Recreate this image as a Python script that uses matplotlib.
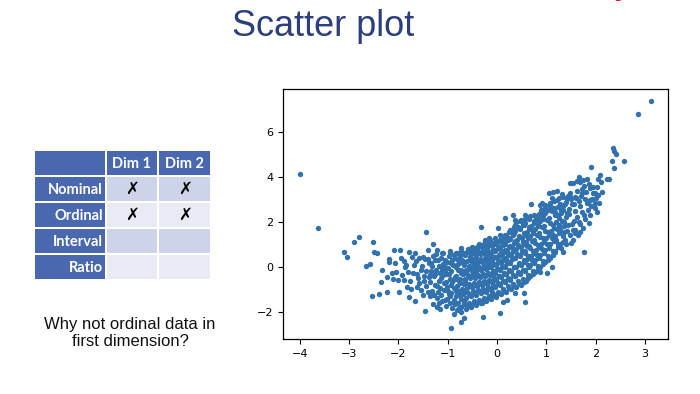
import matplotlib
matplotlib.use("Agg")
import matplotlib.pyplot as plt
from matplotlib.patches import Rectangle

# ---------------- data ----------------
table_cols = ["Dim 1", "Dim 2"]
table_rows = ["Nominal", "Ordinal", "Interval", "Ratio"]
table_marks = [["✗", "✗"], ["✗", "✗"], ["", ""], ["", ""]]

x_ticks = [-4, -3, -2, -1, 0, 1, 2, 3]
y_ticks = [-2, 0, 2, 4, 6]

tail_left = [(-4.0, 4.15), (-3.64, 1.72), (-3.10, 0.68), (-3.05, 0.46), (-2.90, 1.10), (-2.79, 1.35),
             (-2.52, 1.10), (-2.49, 0.65), (-2.43, 0.64), (-2.66, 0.06), (-2.58, 0.13), (-2.54, -1.30),
             (-2.39, -1.19), (-2.24, -1.11), (-2.35, -0.67), (-2.33, -0.13), (-2.23, -0.46), (-2.18, 0.24),
             (-2.19, 0.34), (-2.08, 0.76), (-1.97, 0.76), (-2.07, 0.16), (-1.95, 0.38), (-2.12, -0.25),
             (-2.04, -0.21), (-2.10, -0.55), (-2.00, -0.58), (-1.89, 0.27), (-1.87, 0.01), (-1.98, -1.10),
             (-1.92, -0.36), (-1.89, -0.58), (-1.78, 0.68), (-1.80, -0.21), (-1.76, -0.61), (-1.83, -0.90),
             (-1.75, -0.99), (-1.78, -1.35), (-1.66, 0.61), (-1.68, 0.09), (-1.71, -0.25), (-1.66, -1.50),
             (-1.60, -0.50), (-1.63, -0.88), (-1.58, 0.38), (-1.55, -1.02), (-1.51, -1.24), (-1.43, 1.54),
             (-1.39, 0.76), (-1.30, 1.02), (-1.46, 0.34), (-1.37, 0.16), (-1.44, -0.18), (-1.36, -0.36),
             (-1.43, -0.84), (-1.39, -1.10), (-1.45, -1.97), (-1.55, -0.15), (-1.50, 0.45), (-1.62, -0.30),
             (-1.48, -0.62), (-1.72, 0.45), (-1.85, 0.10), (-1.58, -0.72), (-1.52, 0.05), (-1.47, -0.40),
             (-1.65, 0.25)]

lower_outliers = [(-1.30, -1.64), (-1.22, -1.79), (-1.16, -1.88), (-1.02, -1.44), (-0.95, -1.62),
                  (-0.87, -2.09), (-0.93, -2.73), (-0.72, -2.43), (-0.67, -2.28), (-0.72, -1.76),
                  (-0.60, -1.76), (-0.28, -2.21), (-0.31, -1.62), (-0.24, -1.47), (-0.11, -1.10),
                  (0.20, -1.47), (0.13, -1.54), (0.07, -2.03), (0.57, -1.54), (0.55, -1.17),
                  (0.37, -1.17), (1.01, -0.28), (1.11, 0.01), (0.87, -0.21)]

upper_left = [(-0.32, 1.79), (-1.22, 0.76), (-1.09, 0.61), (-0.95, 0.68), (-0.82, 0.61), (-0.72, 0.83),
              (-0.61, 0.68), (-0.41, 0.90), (-0.24, 1.20), (-0.16, 1.27), (-0.43, 0.53), (0.33, 2.31),
              (0.37, 2.09), (0.57, 2.31), (0.16, 2.16), (0.03, 1.72)]

upper_right = [(3.12, 7.38), (2.87, 6.80), (2.35, 5.27), (2.38, 5.17), (2.41, 5.02), (2.34, 4.71),
               (2.58, 4.71), (2.37, 4.39), (1.91, 4.43), (2.10, 4.09), (2.05, 3.91), (2.12, 3.79),
               (2.24, 3.91), (2.28, 3.92), (1.66, 3.99), (1.62, 3.84), (1.68, 3.78), (1.75, 3.87),
               (1.82, 3.90), (1.48, 3.72), (1.55, 3.72), (1.21, 3.39), (1.14, 3.35), (1.06, 3.27),
               (1.89, 3.50), (1.95, 3.57), (1.99, 3.27), (2.14, 3.35), (1.72, 3.27), (1.35, 3.10),
               (1.43, 3.05), (1.49, 3.12), (1.58, 3.12), (1.11, 3.05), (1.16, 2.95), (0.69, 2.80),
               (0.91, 2.83), (0.97, 2.76), (1.24, 2.68), (1.40, 2.90), (1.99, 2.83), (2.02, 2.46),
               (1.77, 0.68), (1.51, 1.05), (1.33, 0.68), (1.18, 0.68), (1.58, 1.50), (1.68, 1.54),
               (0.87, 2.76), (0.94, 2.39), (1.85, 2.83), (1.89, 2.98)]

core_left = [(-1.32, -1.05), (-1.27, -0.42), (-1.34, 0.18), (-1.26, -0.78), (-1.29, 0.47),
             (-1.22, -1.38), (-1.17, -0.61), (-1.24, -0.12), (-1.19, 0.33), (-1.15, -0.95), (-1.23, 0.58),
             (-1.12, -1.52), (-1.07, -1.01), (-1.13, -0.48), (-1.06, -0.21), (-1.09, 0.12), (-1.14, 0.41),
             (-1.08, -0.73), (-1.11, 0.62),
             (-1.03, -1.74), (-0.98, -1.22), (-1.02, -0.88), (-0.96, -0.55), (-1.04, -0.31), (-0.99, -0.05),
             (-1.01, 0.22), (-0.97, 0.48), (-1.05, -1.45),
             (-0.92, -1.81), (-0.87, -1.48), (-0.93, -1.17), (-0.88, -0.92), (-0.91, -0.66), (-0.86, -0.43),
             (-0.94, -0.18), (-0.89, 0.08), (-0.92, 0.31), (-0.87, 0.55), (-0.95, 0.72),
             (-0.82, -1.92), (-0.78, -1.58), (-0.83, -1.31), (-0.77, -1.06), (-0.81, -0.84), (-0.76, -0.61),
             (-0.84, -0.39), (-0.79, -0.14), (-0.82, 0.07), (-0.78, 0.29), (-0.75, 0.48), (-0.83, 0.63),
             (-0.72, -1.98), (-0.67, -1.66), (-0.73, -1.42), (-0.68, -1.19), (-0.71, -0.97), (-0.66, -0.75),
             (-0.74, -0.55), (-0.69, -0.33), (-0.72, -0.12), (-0.67, 0.09), (-0.70, 0.31), (-0.65, 0.52),
             (-0.73, 0.71),
             (-0.62, -1.88), (-0.57, -1.61), (-0.63, -1.38), (-0.58, -1.15), (-0.61, -0.94), (-0.56, -0.74),
             (-0.64, -0.53), (-0.59, -0.34), (-0.62, -0.13), (-0.57, 0.06), (-0.60, 0.27), (-0.55, 0.45),
             (-0.63, 0.63), (-0.58, 0.81)]

core_mid = [(-0.52, -1.79), (-0.47, -1.52), (-0.53, -1.29), (-0.48, -1.08), (-0.51, -0.88), (-0.46, -0.69),
            (-0.54, -0.51), (-0.49, -0.32), (-0.52, -0.14), (-0.47, 0.04), (-0.50, 0.22), (-0.45, 0.41),
            (-0.53, 0.58), (-0.48, 0.74), (-0.51, 0.91),
            (-0.42, -1.71), (-0.37, -1.46), (-0.43, -1.24), (-0.38, -1.04), (-0.41, -0.86), (-0.36, -0.68),
            (-0.44, -0.51), (-0.39, -0.34), (-0.42, -0.17), (-0.37, 0.01), (-0.40, 0.18), (-0.35, 0.36),
            (-0.43, 0.53), (-0.38, 0.69), (-0.41, 0.86), (-0.36, 1.01),
            (-0.32, -1.62), (-0.27, -1.37), (-0.33, -1.16), (-0.28, -0.97), (-0.31, -0.79), (-0.26, -0.62),
            (-0.34, -0.46), (-0.29, -0.29), (-0.32, -0.12), (-0.27, 0.05), (-0.30, 0.22), (-0.25, 0.39),
            (-0.33, 0.56), (-0.28, 0.72), (-0.31, 0.88), (-0.26, 1.04),
            (-0.22, -1.52), (-0.17, -1.29), (-0.23, -1.09), (-0.18, -0.91), (-0.21, -0.74), (-0.16, -0.58),
            (-0.24, -0.42), (-0.19, -0.26), (-0.22, -0.09), (-0.17, 0.07), (-0.20, 0.23), (-0.15, 0.39),
            (-0.23, 0.55), (-0.18, 0.71), (-0.21, 0.86), (-0.16, 1.02), (-0.24, 1.14),
            (-0.12, -1.41), (-0.07, -1.19), (-0.13, -0.99), (-0.08, -0.82), (-0.11, -0.65), (-0.06, -0.49),
            (-0.14, -0.34), (-0.09, -0.18), (-0.12, -0.02), (-0.07, 0.14), (-0.10, 0.29), (-0.05, 0.45),
            (-0.13, 0.61), (-0.08, 0.77), (-0.11, 0.93), (-0.06, 1.08), (-0.14, 1.21),
            (-0.02, -1.32), (0.03, -1.09), (-0.03, -0.89), (0.02, -0.72), (-0.01, -0.56), (0.04, -0.40),
            (-0.04, -0.25), (0.01, -0.09), (-0.02, 0.07), (0.03, 0.22), (0.00, 0.38), (0.05, 0.54),
            (-0.03, 0.70), (0.02, 0.86), (-0.01, 1.01), (0.04, 1.16), (-0.04, 1.31),
            (0.08, -1.21), (0.13, -0.99), (0.07, -0.79), (0.12, -0.62), (0.09, -0.46), (0.14, -0.30),
            (0.06, -0.15), (0.11, 0.01), (0.08, 0.17), (0.13, 0.33), (0.10, 0.49), (0.15, 0.65),
            (0.07, 0.81), (0.12, 0.97), (0.09, 1.12), (0.14, 1.27), (0.06, 1.41)]

core_right = [(0.18, -1.09), (0.23, -0.86), (0.17, -0.66), (0.22, -0.48), (0.19, -0.31), (0.24, -0.14),
              (0.16, 0.02), (0.21, 0.19), (0.18, 0.36), (0.23, 0.53), (0.20, 0.70), (0.25, 0.87),
              (0.17, 1.04), (0.22, 1.21), (0.19, 1.38), (0.24, 1.57),
              (0.28, -0.98), (0.33, -0.76), (0.27, -0.56), (0.32, -0.37), (0.29, -0.19), (0.34, -0.01),
              (0.26, 0.17), (0.31, 0.35), (0.28, 0.53), (0.33, 0.71), (0.30, 0.89), (0.35, 1.07),
              (0.27, 1.25), (0.32, 1.43), (0.29, 1.61), (0.34, 1.79),
              (0.38, -0.88), (0.43, -0.64), (0.37, -0.42), (0.42, -0.21), (0.39, -0.01), (0.44, 0.19),
              (0.36, 0.39), (0.41, 0.59), (0.38, 0.79), (0.43, 0.99), (0.40, 1.19), (0.45, 1.39),
              (0.37, 1.59), (0.42, 1.79), (0.39, 1.98),
              (0.48, -0.79), (0.53, -0.55), (0.47, -0.33), (0.52, -0.12), (0.49, 0.09), (0.54, 0.29),
              (0.46, 0.49), (0.51, 0.69), (0.48, 0.89), (0.53, 1.09), (0.50, 1.29), (0.55, 1.49),
              (0.47, 1.69), (0.52, 1.88), (0.49, 2.07),
              (0.58, -0.61), (0.63, -0.37), (0.57, -0.14), (0.62, 0.08), (0.59, 0.29), (0.64, 0.50),
              (0.56, 0.71), (0.61, 0.92), (0.58, 1.13), (0.63, 1.34), (0.60, 1.55), (0.65, 1.76),
              (0.57, 1.97), (0.62, 2.18),
              (0.68, -0.42), (0.73, -0.17), (0.67, 0.07), (0.72, 0.29), (0.69, 0.51), (0.74, 0.73),
              (0.66, 0.95), (0.71, 1.17), (0.68, 1.39), (0.73, 1.61), (0.70, 1.83), (0.75, 2.05),
              (0.67, 2.27),
              (0.78, -0.21), (0.83, 0.05), (0.77, 0.29), (0.82, 0.52), (0.79, 0.75), (0.84, 0.98),
              (0.76, 1.21), (0.81, 1.44), (0.78, 1.67), (0.83, 1.90), (0.80, 2.13), (0.85, 2.37),
              (0.88, 0.02), (0.93, 0.28), (0.87, 0.53), (0.92, 0.78), (0.89, 1.03), (0.94, 1.28),
              (0.86, 1.53), (0.91, 1.78), (0.88, 2.03), (0.93, 2.28), (0.90, 2.55),
              (0.98, 0.21), (1.03, 0.48), (0.97, 0.75), (1.02, 1.02), (0.99, 1.29), (1.04, 1.56),
              (0.96, 1.83), (1.01, 2.10), (0.98, 2.39), (1.03, 2.72),
              (1.08, 0.42), (1.13, 0.71), (1.07, 1.00), (1.12, 1.29), (1.09, 1.58), (1.14, 1.87),
              (1.06, 2.16), (1.11, 2.47), (1.08, 2.83),
              (1.18, 0.72), (1.23, 1.04), (1.17, 1.36), (1.22, 1.68), (1.19, 2.00), (1.24, 2.32),
              (1.16, 2.64), (1.21, 2.97),
              (1.28, 1.02), (1.33, 1.36), (1.27, 1.70), (1.32, 2.04), (1.29, 2.38), (1.34, 2.72),
              (1.26, 3.06),
              (1.38, 1.22), (1.43, 1.61), (1.37, 2.00), (1.42, 2.39), (1.39, 2.78), (1.44, 3.17),
              (1.48, 1.43), (1.53, 1.89), (1.47, 2.35), (1.52, 2.81), (1.49, 3.27),
              (1.58, 1.63), (1.63, 2.21), (1.57, 2.79), (1.62, 3.37),
              (1.68, 1.93), (1.73, 2.44), (1.67, 2.95), (1.72, 3.46),
              (1.78, 2.12), (1.83, 2.86), (1.77, 3.58),
              (1.88, 2.31), (1.93, 3.02), (1.87, 3.71),
              (1.98, 2.62), (2.03, 3.55)]

core_fill = [(-0.96, -1.30), (-0.94, -0.78), (-0.97, -0.30), (-0.93, 0.18),
             (-0.86, -1.65), (-0.84, -1.05), (-0.85, -0.55), (-0.83, -0.02), (-0.86, 0.42),
             (-0.76, -1.82), (-0.74, -1.25), (-0.75, -0.72), (-0.73, -0.25), (-0.77, 0.18), (-0.74, 0.58),
             (-0.66, -1.52), (-0.64, -1.08), (-0.65, -0.64), (-0.63, -0.22), (-0.66, 0.20), (-0.64, 0.62),
             (-0.56, -1.70), (-0.54, -1.24), (-0.55, -0.83), (-0.53, -0.42), (-0.56, -0.03), (-0.54, 0.36),
             (-0.55, 0.72),
             (-0.46, -1.60), (-0.44, -1.15), (-0.45, -0.78), (-0.43, -0.41), (-0.46, -0.05), (-0.44, 0.30),
             (-0.45, 0.63),
             (-0.36, -1.54), (-0.34, -1.08), (-0.35, -0.72), (-0.33, -0.38), (-0.36, -0.06), (-0.34, 0.28),
             (-0.35, 0.62), (-0.33, 0.94),
             (-0.26, -1.45), (-0.24, -1.02), (-0.25, -0.67), (-0.23, -0.34), (-0.26, -0.02), (-0.24, 0.31),
             (-0.25, 0.63), (-0.23, 0.95),
             (-0.16, -1.36), (-0.14, -0.96), (-0.15, -0.62), (-0.13, -0.30), (-0.16, 0.01), (-0.14, 0.32),
             (-0.15, 0.64), (-0.13, 0.96),
             (-0.06, -1.25), (-0.04, -0.86), (-0.05, -0.52), (-0.03, -0.19), (-0.06, 0.12), (-0.04, 0.44),
             (-0.05, 0.77), (-0.03, 1.09),
             (0.04, -1.14), (0.06, -0.74), (0.05, -0.41), (0.07, -0.07), (0.04, 0.25), (0.06, 0.57),
             (0.05, 0.90), (0.07, 1.22),
             (0.14, -1.05), (0.16, -0.64), (0.15, -0.28), (0.17, 0.06), (0.14, 0.41), (0.16, 0.75),
             (0.15, 1.08), (0.17, 1.40),
             (0.24, -0.95), (0.26, -0.53), (0.25, -0.16), (0.27, 0.21), (0.24, 0.58), (0.26, 0.95),
             (0.25, 1.31), (0.27, 1.66),
             (0.34, -0.83), (0.36, -0.40), (0.35, -0.02), (0.37, 0.38), (0.34, 0.76), (0.36, 1.14),
             (0.35, 1.51), (0.37, 1.88),
             (0.44, -0.72), (0.46, -0.27), (0.45, 0.13), (0.47, 0.54), (0.44, 0.94), (0.46, 1.33),
             (0.45, 1.72), (0.47, 2.05),
             (0.54, -0.65), (0.56, -0.20), (0.55, 0.22), (0.57, 0.63), (0.54, 1.04), (0.56, 1.44),
             (0.55, 1.85), (0.57, 2.15),
             (0.64, -0.48), (0.66, -0.02), (0.65, 0.42), (0.67, 0.85), (0.64, 1.27), (0.66, 1.69),
             (0.65, 2.12),
             (0.74, -0.30), (0.76, 0.17), (0.75, 0.63), (0.77, 1.08), (0.74, 1.53), (0.76, 1.97),
             (0.75, 2.31),
             (0.84, -0.08), (0.86, 0.40), (0.85, 0.88), (0.87, 1.35), (0.84, 1.83), (0.86, 2.26),
             (0.94, 0.12), (0.96, 0.62), (0.95, 1.12), (0.97, 1.62), (0.94, 2.12), (0.96, 2.58),
             (1.04, 0.32), (1.06, 0.86), (1.05, 1.42), (1.07, 1.96), (1.04, 2.55),
             (1.14, 0.55), (1.16, 1.14), (1.15, 1.73), (1.17, 2.31),
             (1.24, 0.88), (1.26, 1.52), (1.25, 2.16), (1.27, 2.80),
             (1.34, 1.10), (1.36, 1.80), (1.35, 2.52)]

edge_left_fill = [(-1.36, -0.65), (-1.33, -0.20), (-1.31, 0.05), (-1.35, -1.30), (-1.28, -1.25),
                  (-1.25, -0.30), (-1.21, -0.85), (-1.18, 0.05), (-1.16, -0.25), (-1.20, -1.10),
                  (-1.13, -1.25), (-1.10, -0.35), (-1.05, 0.00), (-1.03, -0.65), (-1.00, -1.05),
                  (-1.06, 0.32), (-1.18, -1.62), (-1.26, 0.30), (-1.38, -0.45), (-1.40, 0.35),
                  (-1.12, -0.10)]

edge_right_fill = [(1.30, 0.85), (1.36, 1.55), (1.41, 1.00), (1.45, 1.85), (1.40, 2.20), (1.46, 2.58),
                   (1.50, 3.00), (1.54, 1.20), (1.55, 1.65), (1.56, 2.05), (1.59, 2.50), (1.61, 3.05),
                   (1.64, 1.40), (1.66, 2.00), (1.69, 2.70), (1.70, 3.15), (1.74, 1.75), (1.76, 2.30),
                   (1.79, 3.00), (1.81, 3.35), (1.84, 2.55), (1.86, 1.95), (1.91, 2.70), (1.94, 3.30),
                   (2.00, 3.05), (2.06, 3.20), (2.08, 2.85), (1.20, 1.20), (1.25, 1.85), (1.30, 2.55),
                   (1.32, 3.25), (1.18, 2.45), (1.10, 2.65), (1.12, 1.45)]

groups = [tail_left, lower_outliers, upper_left, upper_right, core_left, core_mid, core_right,
          core_fill, edge_left_fill, edge_right_fill]
xs = [p[0] for g in groups for p in g]
ys = [p[1] for g in groups for p in g]

# ---------------- figure ----------------
W, H = 700, 394
fig = plt.figure(figsize=(W / 100, H / 100), dpi=100)
fig.patch.set_facecolor("white")

# overlay in pixel coordinates for slide elements
bg = fig.add_axes([0, 0, 1, 1])
bg.set_xlim(0, W)
bg.set_ylim(H, 0)
bg.axis("off")

bg.text(323, 36, "Scatter plot", ha="center", va="baseline", fontsize=26,
        color="#2B3F7E", family="Liberation Sans")
bg.text(624, -7, "y", ha="center", va="baseline", fontsize=26, color="#FF0000",
        family="Liberation Sans", clip_on=False)

# table
col_x = [(35, 105), (107, 157), (159, 210)]
row_y = [(151, 175), (177, 201), (203, 227), (229, 253), (255, 279)]
header_blue = "#4A68B0"
row_fill = ["#CDD3E8", "#E8EAF4", "#CDD3E8", "#E8EAF4"]
tfont = "Lato"
for ci, (x0, x1) in enumerate(col_x):
    y0, y1 = row_y[0]
    bg.add_patch(Rectangle((x0, y0), x1 - x0, y1 - y0, color=header_blue, lw=0))
    if ci > 0:
        bg.text((x0 + x1) / 2, (y0 + y1) / 2 + 0.5, table_cols[ci - 1], ha="center", va="center",
                color="white", fontsize=10.5, fontweight="bold", family=tfont)
for ri, name in enumerate(table_rows):
    y0, y1 = row_y[ri + 1]
    x0, x1 = col_x[0]
    bg.add_patch(Rectangle((x0, y0), x1 - x0, y1 - y0, color=header_blue, lw=0))
    bg.text(x1 - 2, (y0 + y1) / 2 + 0.5, name, ha="right", va="center",
            color="white", fontsize=10.5, fontweight="bold", family=tfont)
    for ci in range(2):
        cx0, cx1 = col_x[ci + 1]
        bg.add_patch(Rectangle((cx0, y0), cx1 - cx0, y1 - y0, color=row_fill[ri], lw=0))
        if table_marks[ri][ci]:
            bg.text((cx0 + cx1) / 2, (y0 + y1) / 2, table_marks[ri][ci], ha="center", va="center",
                    color="black", fontsize=12, family="DejaVu Sans")

bg.text(130, 333, "Why not ordinal data in\nfirst dimension?", ha="center", va="center",
        fontsize=12, color="#111111", family="Liberation Sans", linespacing=1.1)

# scatter axes
ax = fig.add_axes([283 / W, 1 - 339 / H, (668 - 283) / W, (339 - 89) / H])
ax.scatter(xs, ys, s=15, color="#3171AE", linewidths=0)
ax.set_xlim(-4.34, 3.47)
ax.set_ylim(-3.2, 7.91)
ax.set_xticks(x_ticks)
ax.set_yticks(y_ticks)
ax.tick_params(labelsize=8, length=3.5, width=0.8)
for sp in ax.spines.values():
    sp.set_linewidth(0.9)

fig.savefig("out.png", dpi=100)
